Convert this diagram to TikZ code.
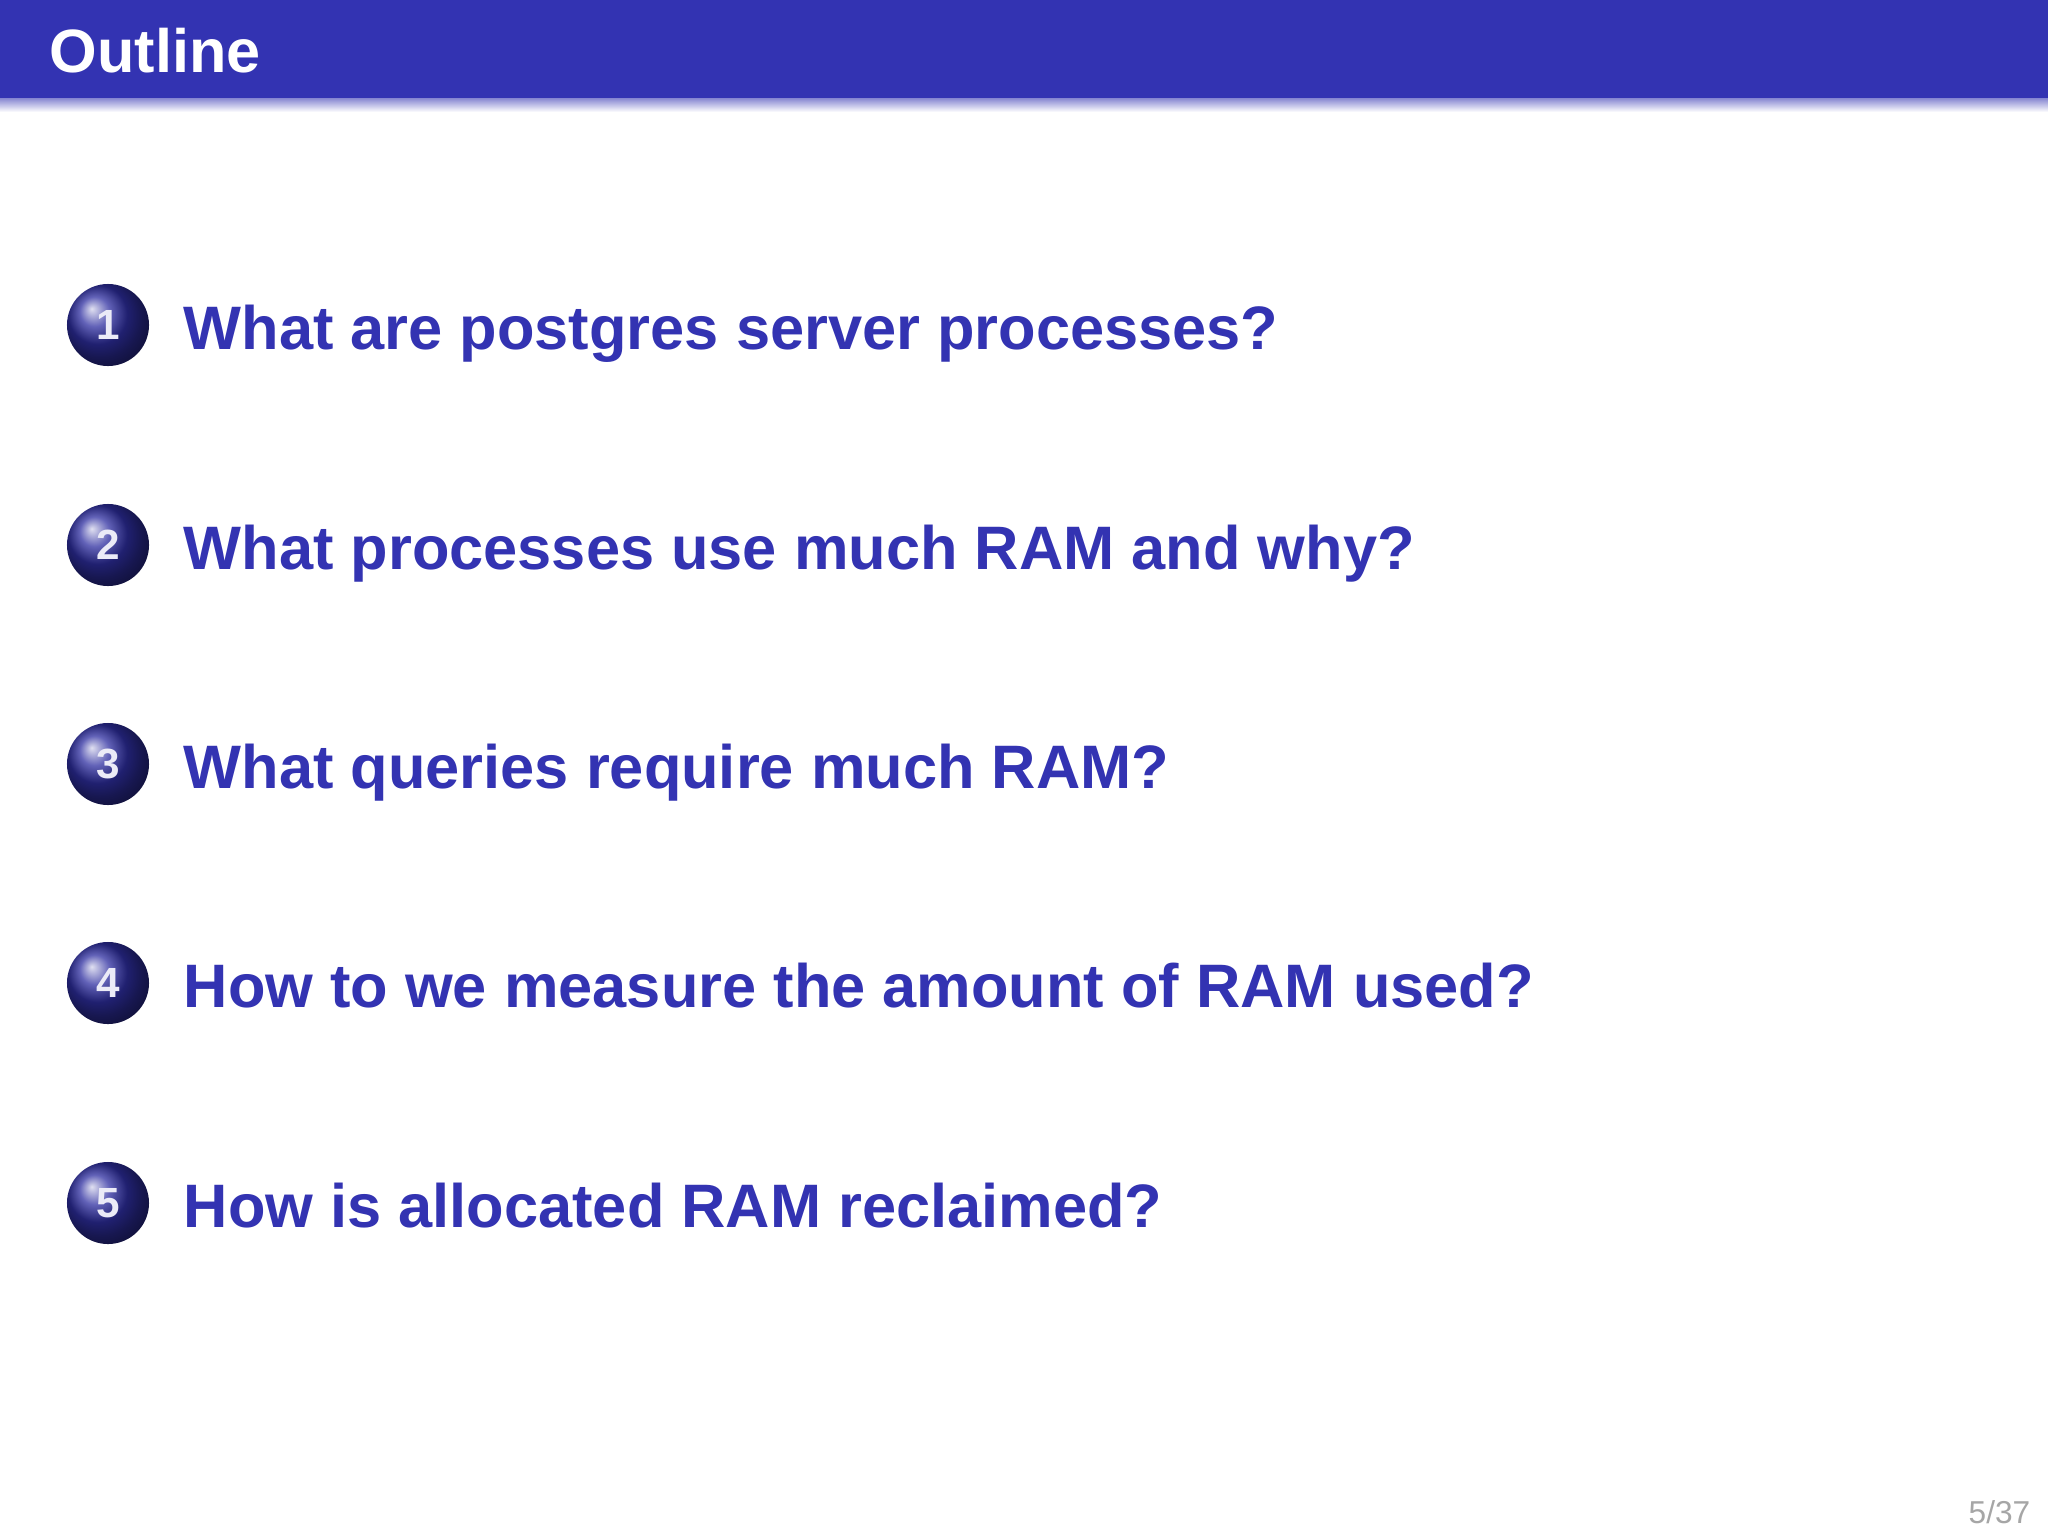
\documentclass[tikz,border=0pt]{standalone}
\usepackage{fontspec}
\setmainfont{Liberation Sans}
\definecolor{bstruct}{HTML}{3333B2}
\begin{document}
\begin{tikzpicture}[x=0.01cm,y=-0.01cm,
  ballnode/.style={circle,minimum size=0.82cm,inner sep=0pt,shading=ball,ball color=bstruct!90!black,text=white!90!bstruct,font=\bfseries\fontsize{12}{14}\selectfont},
  itemtext/.style={anchor=base west,text=bstruct,font=\bfseries\fontsize{17.45}{21}\selectfont,inner sep=0pt}]
\useasboundingbox (0,0) rectangle (2048,1536);
\fill[white] (0,0) rectangle (2048,1536);
\fill[bstruct] (0,0) rectangle (2048,98);
\shade[top color=bstruct!60,bottom color=white] (0,98) rectangle (2048,112);
\node[anchor=west,text=white,font=\bfseries\fontsize{17.4}{20}\selectfont,inner sep=0pt] (title) at (49,51) {Outline};
\foreach \n/\yy/\t in {1/325/{What are postgres server processes?},2/545/{What processes use much RAM and why?},3/764/{What queries require much RAM?},4/983/{How to we measure the amount of RAM used?},5/1203/{How is allocated RAM reclaimed?}}{
  \node[ballnode] (b\n) at (108,\yy) {\n};
  \node[itemtext] (t\n) at (183,\yy+24) {\t};
}
\node[anchor=east,text=black!35,font=\fontsize{9}{11}\selectfont,inner sep=0pt] (pg) at (2031,1512) {5/37};
\end{tikzpicture}
\end{document}
